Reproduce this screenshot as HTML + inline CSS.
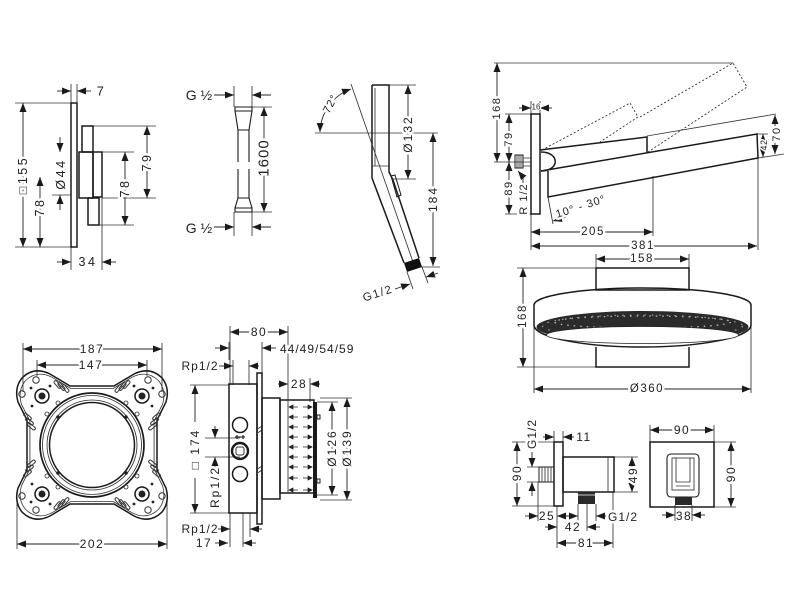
<!DOCTYPE html>
<html><head><meta charset="utf-8"><style>
html,body{margin:0;padding:0;background:#fff}
svg{display:block}
.o{fill:none;stroke:#1a1a1a;stroke-width:1.5}
.l{fill:none;stroke:#333;stroke-width:0.85}
.d{fill:none;stroke:#222;stroke-width:0.9;marker-start:url(#m);marker-end:url(#m)}
.a{fill:none;stroke:#222;stroke-width:0.9;marker-end:url(#m)}
.ms{fill:none;stroke:#222;stroke-width:0.9;marker-start:url(#m)}
text{font-family:"Liberation Sans",sans-serif;font-size:12px;fill:#222;letter-spacing:1.5px;text-anchor:middle;dominant-baseline:central;stroke:#fff;stroke-width:5px;paint-order:stroke;stroke-linejoin:round}
.s{text-anchor:start}
</style></head><body>
<svg width="800" height="600" viewBox="0 0 800 600" xmlns="http://www.w3.org/2000/svg">
<defs>
<marker id="m" viewBox="0 0 9 7" refX="9" refY="3.5" markerWidth="9" markerHeight="7" markerUnits="userSpaceOnUse" orient="auto-start-reverse"><path d="M0,0L9,3.5L0,7z" fill="#1a1a1a"/></marker>
</defs>
<rect width="800" height="600" fill="#fff"/>

<!-- ============ TOP LEFT: trim plate ============ -->
<path class="l" d="M71,84V103 M77,84V103 M15,103H71 M15,247H71 M52,195H71 M93,126H156 M102,198H156 M102,152H134 M99,225H134 M71,247V270 M102,198V270"/>
<rect class="o" x="71" y="103" width="6" height="144"/>
<rect class="o" x="82" y="126" width="11" height="26"/>
<rect class="o" x="79" y="152" width="14" height="46"/>
<rect class="o" x="93" y="152" width="9" height="45"/>
<rect class="o" x="88" y="198" width="11" height="27"/>
<path class="a" d="M57,91H71"/><path class="a" d="M91,91H77"/>
<text x="101" y="91" style="font-size:13px">7</text>
<path class="d" d="M23,103V247"/>
<text transform="rotate(-90 23 175)" x="23" y="175" style="letter-spacing:2.5px;font-size:12.5px">□155</text>
<path class="d" d="M40,177V247"/>
<text transform="rotate(-90 40 207)" x="40" y="207" style="letter-spacing:2.5px;font-size:12.5px">78</text>
<path class="a" d="M60,137V152"/><path class="a" d="M60,210V195"/>
<text transform="rotate(-90 61 174)" x="61" y="174" style="letter-spacing:2.5px;font-size:12.5px">Ø44</text>
<path class="d" d="M147,126V198"/>
<text transform="rotate(-90 147 162)" x="147" y="162" style="letter-spacing:2.5px;font-size:12.5px">79</text>
<path class="d" d="M125,152V225"/>
<text transform="rotate(-90 125 188)" x="125" y="188" style="letter-spacing:2.5px;font-size:12.5px">78</text>
<path class="a" d="M57,262H71"/><path class="a" d="M116,262H102"/>
<text x="88" y="262" style="letter-spacing:2.5px;font-size:12.5px">34</text>

<!-- ============ HOSE ============ -->
<path class="l" d="M234,86V107 M252,86V107 M234,212V236 M252,212V236 M252,107H272 M252,212H272"/>
<text x="199" y="95" style="font-size:14px;letter-spacing:0">G ½</text>
<path class="a" d="M214,95H234"/><path class="a" d="M271,95H252"/>
<path class="o" style="stroke-width:1.1" d="M235,107H252V111L249,130H238L235,111Z M235,111H252"/>
<path class="o" style="stroke-width:1.1" d="M238,130V162 M249,130V162 M238,169V198 M249,169V198"/>
<path class="o" style="stroke-width:1.1" d="M238,198H249L252,208V212H235V208Z M235,208H252"/>
<path class="d" d="M264,107V212"/>
<text transform="rotate(-90 264 158)" x="264" y="158" style="font-size:15px;letter-spacing:1px">1600</text>
<text x="199" y="228" style="font-size:14px;letter-spacing:0">G ½</text>
<path class="a" d="M214,227H234"/><path class="a" d="M271,227H252"/>

<!-- ============ HAND SHOWER ============ -->
<path class="l" d="M315,133H438"/>
<path class="l" d="M389,85H416 M392,179H416 M421,267H440"/>
<path class="o" d="M372,85H389V172L393,180L419,258 M372,85V178L404,263"/>
<path class="l" d="M372,166H389 M375,88V166"/>
<path class="l" d="M351,84L413,262"/>
<path d="M404,263L419,258L422,267L407,272Z" fill="#111"/>
<path class="o" style="stroke-width:1" d="M391,176L395,175L401,195L397,197Z"/>
<path class="d" d="M320,132A47,47 0 0 1 351,89"/>
<text transform="rotate(-62 331 104)" x="331" y="104" style="font-size:11px;letter-spacing:1px">72°</text>
<path class="d" d="M408,85V179"/>
<text transform="rotate(-90 408 134)" x="408" y="134" style="letter-spacing:2px">Ø132</text>
<path class="d" d="M433,133V266"/>
<text transform="rotate(-90 433 199)" x="433" y="199" style="letter-spacing:2px">184</text>
<path class="l" d="M407,272L413,289 M422,267L428,283"/>
<path class="a" d="M395,289L410,284"/>
<path class="a" d="M438,273L426,277"/>
<text transform="rotate(-18 378 294)" x="378" y="294" style="font-size:11.5px;letter-spacing:1.5px">G1/2</text>

<!-- ============ TOP RIGHT: shower arm ============ -->
<path class="l" d="M494,63H733"/>
<path class="l" d="M505,114H531 M494,162H531 M505,214H531 M531,101V114 M540,101V114 M531,214V250"/>
<path class="l" d="M647,136L776,114 M758,158L784,154 M757,134H768"/>
<path class="l" d="M653,176V236 M758,158V250 M548,197L553,224"/>
<path class="l" style="stroke-dasharray:2 2;stroke-width:0.9" d="M542,150L630,103L638,117L600,142 M640,117L733,63L747,87L648,152"/>
<rect class="o" x="531" y="114" width="9" height="100"/>
<rect class="o" style="stroke-width:1" x="515" y="155" width="8" height="13" fill="#fff"/>
<path class="l" d="M517,155V168 M519,155V168 M521,155V168 M523,158H531 M523,166H531"/>
<path class="o" d="M540,150L647,137V153"/>
<path class="o" d="M541,152C560,152 560,171 541,171"/>
<path class="o" d="M541,171L757,134L758,158L548,197V171"/>
<path class="d" d="M497,63V162"/>
<text transform="rotate(-90 497 108)" x="497" y="108" style="font-size:11px">168</text>
<path class="d" d="M509,114V162"/>
<text transform="rotate(-90 509 139)" x="509" y="139" style="font-size:11px">79</text>
<path class="d" d="M509,162V214"/>
<text transform="rotate(-90 509 188)" x="509" y="188" style="font-size:11px">89</text>
<path class="a" d="M519,108H531"/><path class="a" d="M552,108H540"/>
<text x="536" y="107" style="font-size:8px;letter-spacing:0;stroke-width:2px">16</text>
<path class="a" d="M523,184V177L518,171"/>
<text transform="rotate(-90 524 199)" x="524" y="199" style="font-size:11px;letter-spacing:1px">R 1/2</text>
<path class="d" d="M775,115V154"/>
<text transform="rotate(-90 777 134)" x="777" y="134" style="font-size:11px">70</text>
<path class="d" d="M763,134V157"/>
<text transform="rotate(-90 764 145)" x="764" y="145" style="font-size:9px;letter-spacing:0.5px;stroke-width:3px">42</text>
<path class="a" d="M567,217L553,221"/>
<text transform="rotate(-18 581 207)" x="581" y="207" style="font-size:11px;letter-spacing:1px">10° - 30°</text>
<path class="d" d="M531,232H653"/>
<text x="593" y="232" style="font-size:11.5px">205</text>
<path class="d" d="M531,246H757"/>
<text x="643" y="246" style="font-size:11.5px">381</text>

<!-- ============ ROUND SHOWER HEAD ============ -->
<path class="l" d="M596,254V268 M689,254V268 M517,268H596 M517,367H596 M534,325V393 M751,325V393"/>
<path class="d" d="M596,259H689"/>
<text x="642" y="259" style="font-size:11.5px">158</text>
<rect class="o" x="596" y="268" width="93" height="22"/>
<path class="o" fill="#fff" d="M534,305A108.5,17 0 0 1 751,305V325A108.5,22 0 0 1 534,325Z"/>
<ellipse cx="642.5" cy="327" rx="106" ry="16" fill="#2b2b2b"/>
<ellipse cx="642.5" cy="322" rx="88" ry="6" fill="none" stroke="#bbb" stroke-width="1.3" stroke-dasharray="1.5 5"/>
<ellipse cx="642.5" cy="326" rx="100" ry="11" fill="none" stroke="#999" stroke-width="1.3" stroke-dasharray="1.5 6"/>
<ellipse cx="642.5" cy="335" rx="96" ry="8.5" fill="#fff" stroke="#222" stroke-width="0.8"/>
<path class="o" d="M596,347V367H689V347"/>
<path class="d" d="M523,268V367"/>
<text transform="rotate(-90 523 316)" x="523" y="316" style="font-size:11.5px">168</text>
<path class="d" d="M534,389H751"/>
<text x="647" y="389" style="font-size:11.5px">Ø360</text>

<!-- ============ BOTTOM LEFT: mounting plate ============ -->
<path class="l" d="M23,343V392 M162,343V392 M37,360V376 M147,360V376 M17,500V549 M167,500V549"/>
<path class="d" d="M23,349H162"/>
<text x="92" y="349">187</text>
<path class="d" d="M37,365H147"/>
<text x="91" y="365">147</text>
<path class="d" d="M17,544H167"/>
<text x="92" y="544">202</text>
<path class="o" d="M70,386L114,386L134,374Q150,366 162,378Q170,388 166,402L157,420L157,470L166,488Q170,502 162,512Q150,524 134,516L114,504L70,504L50,516Q34,524 22,512Q14,502 18,488L27,470L27,420L18,402Q14,388 22,378Q34,366 50,374Z"/>
<path class="l" transform="translate(92 445) scale(0.955) translate(-92 -445)" d="M70,386L114,386L134,374Q150,366 162,378Q170,388 166,402L157,420L157,470L166,488Q170,502 162,512Q150,524 134,516L114,504L70,504L50,516Q34,524 22,512Q14,502 18,488L27,470L27,420L18,402Q14,388 22,378Q34,366 50,374Z"/>
<circle cx="92" cy="445" r="52" class="o" style="stroke-width:1.7"/>
<circle cx="92" cy="445" r="49.5" class="l"/>
<circle cx="92" cy="445" r="45" class="l"/>
<circle cx="92" cy="445" r="42.5" class="o"/>
<g fill="#222">
<circle cx="58" cy="417" r="1.8"/><circle cx="126" cy="417" r="1.8"/><circle cx="58" cy="473" r="1.8"/><circle cx="126" cy="473" r="1.8"/>
</g>
<g class="l">
<circle cx="47" cy="414" r="2"/><circle cx="137" cy="414" r="2"/><circle cx="47" cy="476" r="2"/><circle cx="137" cy="476" r="2"/>
<circle cx="58" cy="403" r="2"/><circle cx="126" cy="403" r="2"/><circle cx="58" cy="487" r="2"/><circle cx="126" cy="487" r="2"/>
</g>
<g id="ear">
<circle cx="42" cy="396" r="7" class="o"/>
<circle cx="42" cy="396" r="3.5" fill="#222"/>
<circle cx="36" cy="380" r="3.2" class="l" style="stroke-width:1"/>
<circle cx="22" cy="394" r="3.2" class="l" style="stroke-width:1"/>
<circle cx="31" cy="388" r="1.4" fill="#222"/>
<circle cx="50" cy="386" r="1.4" fill="#222"/>
<circle cx="32" cy="406" r="1.4" fill="#222"/>
<g class="l" style="stroke-width:1">
<rect x="56" y="380" width="3" height="9" rx="1.5" transform="rotate(-40 57.5 384.5)"/>
<rect x="60" y="382" width="3" height="9" rx="1.5" transform="rotate(-40 61.5 386.5)"/>
<rect x="64" y="384" width="3" height="9" rx="1.5" transform="rotate(-40 65.5 388.5)"/>
<rect x="26" y="412" width="3" height="9" rx="1.5" transform="rotate(-50 27.5 416.5)"/>
<rect x="28" y="417" width="3" height="9" rx="1.5" transform="rotate(-50 29.5 421.5)"/>
<rect x="30" y="422" width="3" height="9" rx="1.5" transform="rotate(-50 31.5 426.5)"/>
</g>
</g>
<use href="#ear" transform="matrix(-1 0 0 1 184 0)"/>
<use href="#ear" transform="matrix(1 0 0 -1 0 890)"/>
<use href="#ear" transform="matrix(-1 0 0 -1 184 890)"/>

<!-- ============ BOTTOM MIDDLE: iBox ============ -->
<path class="l" d="M230,326V385 M288,326V400 M229,342V360 M262,342V373 M233,360V385 M249,360V385 M310,378V402 M317,402H338 M317,495H338 M320,398H352 M320,500H352 M190,385H229 M190,513H229 M205,438H240 M205,457H240 M230,513V547 M243,513V547 M250,513V537"/>
<path class="d" d="M230,332H288"/>
<text x="259" y="332">80</text>
<path class="a" d="M215,348H229"/><path class="a" d="M276,348H262"/>
<text class="s" x="280" y="349" style="letter-spacing:1px">44/49/54/59</text>
<text x="200" y="366" style="letter-spacing:1px">Rp1/2</text>
<path class="a" d="M219,366H233"/><path class="a" d="M259,366H249"/>
<rect class="o" x="229" y="384" width="28" height="129"/>
<rect class="o" x="257" y="373" width="5" height="151"/>
<path class="l" d="M256,430L262,426 M256,434L262,430 M256,470L262,466 M256,474L262,470"/>
<rect class="o" x="262" y="398" width="18" height="101"/>
<rect class="o" x="280" y="400" width="34" height="93"/>
<path class="l" d="M288,400V493"/>
<rect x="313" y="402" width="4" height="96" fill="#1a1a1a"/>
<rect class="o" style="stroke-width:1" x="317" y="415" width="3" height="4"/>
<rect class="o" style="stroke-width:1" x="317" y="479" width="3" height="4"/>
<path fill="#222" stroke="#222" stroke-width="0.7" d="
M298,407H293M293,405L289,407L293,409Z M303,407H308M308,405L312,407L308,409Z
M298,417H293M293,415L289,417L293,419Z M303,417H308M308,415L312,417L308,419Z
M298,427H293M293,425L289,427L293,429Z M303,427H308M308,425L312,427L308,429Z
M298,437H293M293,435L289,437L293,439Z M303,437H308M308,435L312,437L308,439Z
M298,447H293M293,445L289,447L293,449Z M303,447H308M308,445L312,447L308,449Z
M298,457H293M293,455L289,457L293,459Z M303,457H308M308,455L312,457L308,459Z
M298,467H293M293,465L289,467L293,469Z M303,467H308M308,465L312,467L308,469Z
M298,478H293M293,476L289,478L293,480Z M303,478H308M308,476L312,478L308,480Z
M298,490H293M293,488L289,490L293,492Z M303,490H308M308,488L312,490L308,492Z"/>
<circle cx="240" cy="425" r="7.5" class="o"/>
<circle cx="240" cy="451" r="8" class="o" style="stroke-width:2.4"/>
<rect x="236" y="447" width="8" height="8" rx="2" class="l" style="stroke-width:1"/>
<path class="l" style="stroke-width:1.3" d="M235,437H245 M237,435V439 M243,435V439"/>
<circle cx="240" cy="474" r="7.5" class="o"/>
<path class="a" d="M278,384H288"/><path class="a" d="M320,384H310"/>
<text x="299" y="384">28</text>
<path class="d" d="M332,402V495"/>
<text transform="rotate(-90 332 448)" x="332" y="448" style="letter-spacing:2px">Ø126</text>
<path class="d" d="M347,398V500"/>
<text transform="rotate(-90 347 448)" x="347" y="448" style="letter-spacing:2px">Ø139</text>
<path class="ms" d="M195,385V422"/><path class="a" d="M195,478V513"/>
<text transform="rotate(-90 195 449)" x="195" y="449" style="letter-spacing:2px">□ 174</text>
<path class="a" d="M215,426V438"/><path class="a" d="M215,469V457"/>
<text transform="rotate(-90 215 487)" x="215" y="487" style="letter-spacing:2px">Rp1/2</text>
<text x="200" y="529" style="letter-spacing:1px">Rp1/2</text>
<path class="a" d="M218,529H230"/><path class="a" d="M262,529H250"/>
<text x="204" y="543">17</text>
<path class="a" d="M215,543H228"/><path class="a" d="M256,543H243"/>

<!-- ============ BOTTOM RIGHT: wall outlet ============ -->
<path class="l" d="M512,442H554 M512,506H554 M527,467H539 M527,482H539 M554,431V442 M563,431V442 M614,457H638 M614,492H638 M538,482V521 M557,506V548 M578,504V521 M587,500V531 M596,504V521 M613,492V548"/>
<rect class="o" x="554" y="442" width="9" height="64"/>
<rect class="o" style="stroke-width:1" x="539" y="467" width="15" height="15"/>
<path class="l" d="M542,467V482 M545,467V482 M548,467V482 M551,467V482"/>
<rect class="o" x="563" y="457" width="51" height="35"/>
<path class="l" d="M608,457V492"/>
<rect x="578" y="492" width="17" height="12" fill="#2a2a2a"/>
<path stroke="#fff" stroke-width="0.8" d="M578,495H595"/>
<path class="d" d="M517,442V506"/>
<text transform="rotate(-90 517 473)" x="517" y="473">90</text>
<text transform="rotate(-90 532 434)" x="532" y="434" style="letter-spacing:1px">G1/2</text>
<path class="a" d="M532,452V467"/><path class="a" d="M532,496V482"/>
<path class="a" d="M543,437H554"/><path class="a" d="M574,437H563"/>
<text x="584" y="437">11</text>
<path class="d" d="M632,457V492"/>
<text transform="rotate(-90 633 475)" x="633" y="475">49</text>
<path class="a" d="M525,516H538"/>
<text x="547" y="516" style="stroke-width:2px">25</text>
<path class="a" d="M568,516H557"/>
<path class="a" d="M566,516H578"/>
<path class="a" d="M607,516H596"/>
<text class="s" x="608" y="517" style="letter-spacing:1px">G1/2</text>
<path class="a" d="M545,527H557"/>
<text x="573" y="527">42</text>
<path class="a" d="M600,527H587"/>
<path class="d" d="M557,543H613"/>
<text x="586" y="543">81</text>
<!-- front view -->
<path class="l" d="M650,425V442 M714,425V442 M714,442H736 M714,507H736 M675,505V521 M692,505V521"/>
<rect class="o" x="650" y="442" width="64" height="65"/>
<rect class="o" style="stroke-width:1.1" x="667" y="454" width="32" height="43" rx="4"/>
<rect class="l" x="672" y="458" width="22" height="32"/>
<path class="l" d="M676,458V482H690V458 M676,486H690"/>
<rect x="675" y="497" width="17" height="8" fill="#2a2a2a"/>
<path class="d" d="M650,430H714"/>
<text x="682" y="430">90</text>
<path class="d" d="M731,442V507"/>
<text transform="rotate(-90 731 474)" x="731" y="474">90</text>
<path class="a" d="M662,515H675"/><path class="a" d="M705,515H692"/>
<text x="684" y="516" style="stroke-width:2px">38</text>
</svg>
</body></html>
